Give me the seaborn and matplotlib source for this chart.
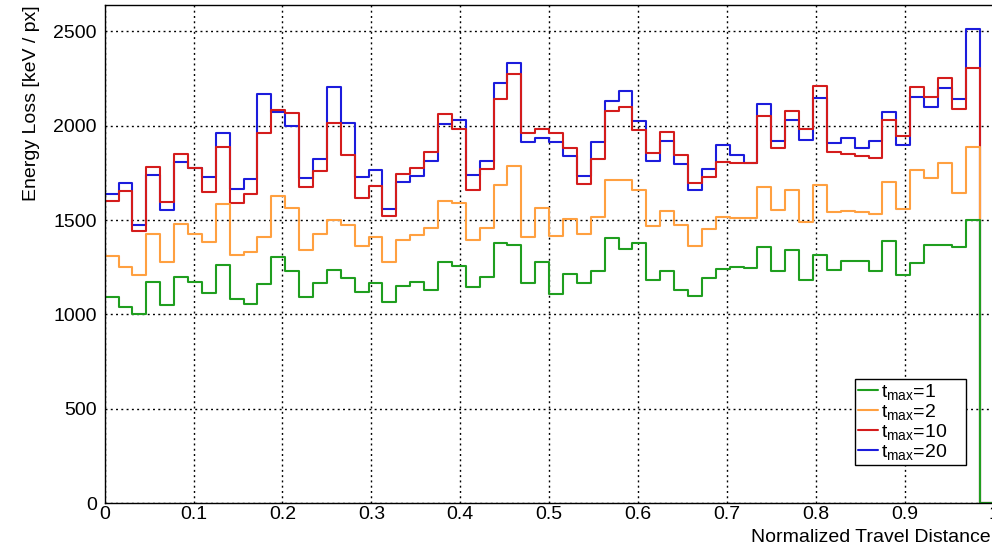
import numpy as np
import matplotlib
matplotlib.use("Agg")
import matplotlib.pyplot as plt
import seaborn as sns
from matplotlib.ticker import MultipleLocator, FuncFormatter

sns.set_style("white")
plt.rcParams['font.family'] = ['Liberation Sans', 'DejaVu Sans']
plt.rcParams['mathtext.fontset'] = 'custom'
plt.rcParams['mathtext.rm'] = 'Liberation Sans'
plt.rcParams['mathtext.it'] = 'Liberation Sans:italic'
plt.rcParams['text.color'] = 'black'
plt.rcParams['axes.labelcolor'] = 'black'
plt.rcParams['xtick.color'] = 'black'
plt.rcParams['ytick.color'] = 'black'

# ---------------- data ----------------
n_bins = 64
x_range = (0.0, 1.0)

tmax20 = [1639, 1696, 1474, 1738, 1555, 1807, 1777, 1726, 1962, 1664,
          1720, 2170, 2073, 2000, 1724, 1821, 2204, 2015, 1729, 1763,
          1560, 1701, 1736, 1814, 2010, 2029, 1738, 1814, 2228, 2332,
          1913, 1934, 1913, 1839, 1733, 1914, 2131, 2182, 2026, 1812,
          1920, 1799, 1659, 1770, 1899, 1847, 1802, 2117, 1920, 2031,
          1922, 2149, 1907, 1937, 1883, 1918, 2075, 1897, 2154, 2100,
          2200, 2140, 2514, 0]
tmax10 = [1600, 1653, 1442, 1780, 1595, 1849, 1777, 1650, 1886, 1590,
          1636, 1962, 2082, 2066, 1675, 1761, 2015, 1847, 1618, 1678,
          1523, 1745, 1777, 1861, 2061, 1981, 1657, 1772, 2142, 2276,
          1959, 1981, 1959, 1883, 1692, 1823, 2078, 2098, 1980, 1856,
          1967, 1844, 1699, 1729, 1809, 1803, 1802, 2052, 1881, 2080,
          1985, 2212, 1863, 1849, 1839, 1828, 2029, 1946, 2207, 2153,
          2253, 2089, 2308, 0]
tmax2 = [1312, 1250, 1207, 1425, 1277, 1480, 1424, 1385, 1585, 1317,
         1332, 1411, 1625, 1562, 1340, 1425, 1500, 1472, 1362, 1411,
         1280, 1394, 1422, 1459, 1600, 1593, 1392, 1456, 1687, 1784,
         1410, 1563, 1418, 1505, 1424, 1518, 1713, 1713, 1660, 1470,
         1546, 1473, 1360, 1450, 1518, 1512, 1512, 1675, 1551, 1661,
         1488, 1686, 1544, 1548, 1541, 1534, 1701, 1556, 1765, 1721,
         1804, 1641, 1889, 0]
tmax1 = [1092, 1041, 1004, 1174, 1051, 1199, 1172, 1112, 1264, 1080,
         1055, 1163, 1303, 1232, 1094, 1167, 1234, 1191, 1121, 1168,
         1066, 1152, 1174, 1128, 1277, 1257, 1145, 1200, 1378, 1367,
         1168, 1278, 1106, 1213, 1165, 1230, 1404, 1349, 1378, 1181,
         1229, 1130, 1099, 1191, 1238, 1253, 1247, 1357, 1231, 1341,
         1180, 1313, 1237, 1281, 1284, 1230, 1389, 1207, 1270, 1367,
         1366, 1359, 1498, 0]

labels = [r"$\mathrm{t}_{\mathrm{max}}$=1", r"$\mathrm{t}_{\mathrm{max}}$=2",
          r"$\mathrm{t}_{\mathrm{max}}$=10", r"$\mathrm{t}_{\mathrm{max}}$=20"]
colors = ["#1f9e1f", "#ffa040", "#d41c1c", "#1c1cdc"]
series = [tmax1, tmax2, tmax10, tmax20]

x_title = "Normalized Travel Distance"
y_title = "Energy Loss [keV / px]"

# ---------------- plot ----------------
edges = np.linspace(x_range[0], x_range[1], n_bins + 1)
centers = 0.5 * (edges[:-1] + edges[1:])

W, H = 992, 554
fig = plt.figure(figsize=(W / 100, H / 100), dpi=100)
ax = fig.add_axes([104.7 / W, 51 / H, 888.9 / W, 498 / H])

lines = {}
for idx in [3, 2, 1, 0]:  # draw order: blue, red, orange, green (green on top)
    sns.histplot(x=centers, weights=series[idx], bins=n_bins, binrange=x_range,
                 element="step", fill=False, color=colors[idx], linewidth=1.5,
                 ax=ax)
    lines[idx] = ax.lines[-1]

ax.set_xlim(*x_range)
ax.set_ylim(0, 2640)

ax.xaxis.set_major_locator(MultipleLocator(0.1))
ax.xaxis.set_minor_locator(MultipleLocator(0.02))
ax.yaxis.set_major_locator(MultipleLocator(500))
ax.yaxis.set_minor_locator(MultipleLocator(100))
ax.xaxis.set_major_formatter(FuncFormatter(lambda v, p: f"{v:g}"))
ax.yaxis.set_major_formatter(FuncFormatter(lambda v, p: f"{v:g}"))

ax.grid(True, which="major", color="black", linestyle=(0, (1.4, 2.4)), linewidth=1.0)
ax.set_axisbelow(True)

ax.tick_params(axis="both", which="both", direction="in", top=False, right=False,
               width=1.0, labelsize=14, colors="black")
ax.tick_params(axis="x", which="major", length=10.8, pad=2.5)
ax.tick_params(axis="x", which="minor", length=5.4)
ax.tick_params(axis="y", which="major", length=18, pad=5.8)
ax.tick_params(axis="y", which="minor", length=9)

for s in ax.spines.values():
    s.set_color("black")
    s.set_linewidth(1.0)
    s.set_visible(True)

ax.set_xlabel(x_title, fontsize=14, loc="right")
ax.xaxis.set_label_coords(0.9965, -0.053)
ax.set_ylabel(y_title, fontsize=14, loc="top")
ax.yaxis.set_label_coords(-0.0725, 1.0)

handles = [lines[i] for i in range(4)]
leg = ax.legend(handles, labels, loc="upper left",
                bbox_to_anchor=(854.7 / W, (H - 379) / H, (966 - 854.7) / W, 0),
                bbox_transform=fig.transFigure, mode="expand",
                fontsize=14, frameon=True, fancybox=False, framealpha=1,
                edgecolor="black", borderaxespad=0, borderpad=0.15,
                handlelength=1.05, handletextpad=0.15, labelspacing=0.0)
leg.get_frame().set_linewidth(1.0)

fig.savefig("out.png", dpi=100)
